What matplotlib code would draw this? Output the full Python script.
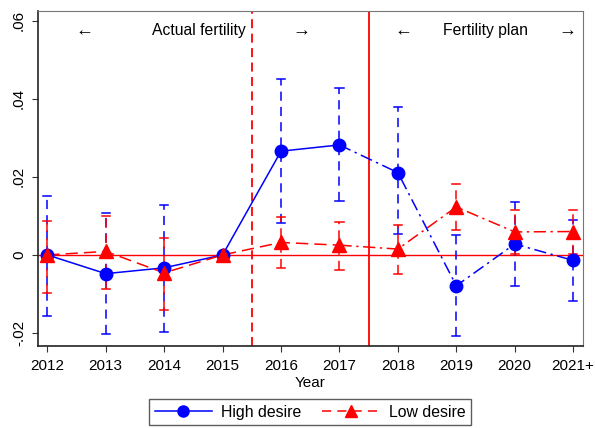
import numpy as np
import matplotlib
matplotlib.use("Agg")
import matplotlib.pyplot as plt
from matplotlib.lines import Line2D

plt.rcParams['font.family'] = ['Liberation Sans', 'DejaVu Sans']

years = ['2012', '2013', '2014', '2015', '2016', '2017', '2018', '2019', '2020', '2021+']
high = [0.0, -0.0048, -0.0033, 0.0, 0.0266, 0.0282, 0.0211, -0.0079, 0.0028, -0.0014]
high_lo = [-0.0156, -0.0203, -0.0198, 0.0, 0.0081, 0.0137, 0.0054, -0.0209, -0.0079, -0.0117]
high_hi = [0.0152, 0.0108, 0.0128, 0.0, 0.0451, 0.0428, 0.0378, 0.0052, 0.0135, 0.0090]
low = [0.0, 0.0009, -0.0046, 0.0, 0.0032, 0.0025, 0.0015, 0.0123, 0.0059, 0.0060]
low_lo = [-0.0097, -0.0087, -0.0142, 0.0, -0.0033, -0.0038, -0.0048, 0.0063, 0.0003, 0.0003]
low_hi = [0.0088, 0.0099, 0.0044, 0.0, 0.0097, 0.0084, 0.0078, 0.0182, 0.0114, 0.0116]

x = np.arange(len(years))
blue = '#0000ff'
red = '#ff0000'

fig = plt.figure(figsize=(5.95, 4.28), dpi=100)
ax = fig.add_axes([0.0634, 0.192, 0.9156, 0.782])

# reference lines
ax.axhline(0, color=red, lw=1.0, zorder=1)
ax.axvline(3.5, color=red, lw=1.3, ls=(0, (5, 3)), zorder=1)
ax.axvline(5.5, color=red, lw=1.3, zorder=1)

# error bars
def ci(vals, lo, hi, col):
    for i in range(len(vals)):
        if lo[i] == hi[i]:
            continue
        ax.plot([x[i], x[i]], [lo[i], hi[i]], color=col, lw=1.1, ls=(0, (6, 4)), zorder=2)
        for yv in (lo[i], hi[i]):
            ax.plot([x[i] - 0.07, x[i] + 0.07], [yv, yv], color=col, lw=1.1, zorder=2)

ci(high, high_lo, high_hi, blue)
ci(low, low_lo, low_hi, red)

# lines: actual period (to 2017) and plan period (from 2017)
ax.plot(x[:6], high[:6], color=blue, lw=1.1, ls='-', zorder=3)
ax.plot(x[5:], high[5:], color=blue, lw=1.1, ls=(0, (8, 3, 1.5, 3)), zorder=3)
ax.plot(x[:6], low[:6], color=red, lw=1.1, ls=(0, (8, 4)), zorder=3)
ax.plot(x[5:], low[5:], color=red, lw=1.1, ls=(0, (8, 3, 1.5, 3)), zorder=3)
ax.plot(x, high, 'o', color=blue, ms=9, zorder=4)
ax.plot(x, low, '^', color=red, ms=9.5, zorder=5)

ax.set_xlim(-0.164, 9.16)
ax.set_ylim(-0.0233, 0.0625)
ax.set_xticks(x)
ax.set_xticklabels(years, fontsize=11)
ax.set_yticks([-0.02, 0, 0.02, 0.04, 0.06])
ax.set_yticklabels(['-.02', '0', '.02', '.04', '.06'], fontsize=11, rotation=90, va='center')
ax.tick_params(direction='out', length=4, width=0.8, color='#333333', pad=5.5)
ax.tick_params(axis='y', pad=4.5)
ax.set_xlabel('Year', fontsize=11, labelpad=2)

for s in ['top', 'right']:
    ax.spines[s].set_color('#777777')
for s in ['left', 'bottom']:
    ax.spines[s].set_color('#222222')
    ax.spines[s].set_linewidth(1.2)

# period annotations
ty = 0.0575
ax.text(0.64, ty, '←', ha='center', va='center', fontsize=13)
ax.text(2.6, ty, 'Actual fertility', ha='center', va='center', fontsize=11.3)
ax.text(4.35, ty, '→', ha='center', va='center', fontsize=13)
ax.text(6.1, ty, '←', ha='center', va='center', fontsize=13)
ax.text(7.5, ty, 'Fertility plan', ha='center', va='center', fontsize=11.3)
ax.text(8.9, ty, '→', ha='center', va='center', fontsize=13)

handles = [
    Line2D([], [], color=blue, lw=1.1, marker='o', ms=8, label='High desire'),
    Line2D([], [], color=red, lw=1.1, ls=(0, (6, 4)), marker='^', ms=8.5, label='Low desire'),
]
fig.legend(handles=handles, loc='center', bbox_to_anchor=(0.521, 0.0366), ncol=2,
           fontsize=11.4, frameon=True, fancybox=False, edgecolor='#333333',
           handlelength=3.6, handletextpad=0.6, columnspacing=1.3,
           borderpad=0.35, borderaxespad=0)

fig.savefig('out.png', dpi=100)
